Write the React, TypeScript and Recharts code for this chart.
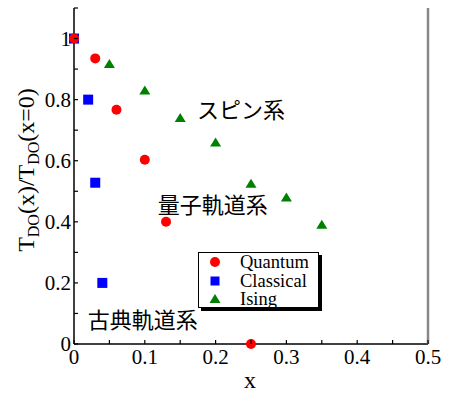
import React from 'react';
import { ScatterChart, Scatter, XAxis, YAxis, ReferenceDot, Label, Legend } from 'recharts';

const quantumX = [0, 0.03, 0.06, 0.1, 0.13, 0.25];
const quantumY = [1.0, 0.935, 0.767, 0.603, 0.4, 0];
const classicalX = [0, 0.02, 0.03, 0.04];
const classicalY = [1.0, 0.8, 0.528, 0.2];
const isingX = [0.05, 0.1, 0.15, 0.2, 0.25, 0.3, 0.35];
const isingY = [0.917, 0.83, 0.74, 0.66, 0.525, 0.48, 0.39];

const seriesNames = ['Quantum', 'Classical', 'Ising'];
const seriesColors = ['#ff0000', '#0000ff', '#008000'];

const xTicks = [0, 0.05, 0.1, 0.15, 0.2, 0.25, 0.3, 0.35, 0.4, 0.45, 0.5];
const yTicks = [0, 0.1, 0.2, 0.3, 0.4, 0.5, 0.6, 0.7, 0.8, 0.9, 1.0, 1.1];

const annotations = [
  { text: 'スピン系', x: 0.236, y: 0.773 },
  { text: '量子軌道系', x: 0.196, y: 0.462 },
  { text: '古典軌道系', x: 0.097, y: 0.085 },
];

const toPoints = (xs: number[], ys: number[]) => xs.map((x, i) => ({ x, y: ys[i] }));
const quantum = toPoints(quantumX, quantumY);
const classical = toPoints(classicalX, classicalY);
const ising = toPoints(isingX, isingY);

const SERIF = '"Liberation Serif", "Times New Roman", serif';
const CJK = '"Noto Sans CJK JP", sans-serif';

const isMultiple = (v: number, step: number) => Math.abs(Math.round(v / step) * step - v) < 1e-6;
const fmt = (v: number) => (Math.abs(v) < 1e-9 ? '0' : Math.abs(v - 1) < 1e-9 ? '1' : v.toFixed(1));

const BottomTick = (props: any) => {
  const { x, y, payload } = props;
  const v = payload.value;
  return (
    <g>
      <line x1={x} y1={y} x2={x} y2={y - 4} stroke="#000" strokeWidth={1.2} />
      {isMultiple(v, 0.1) && (
        <text x={x} y={y + 20} textAnchor="middle" fontFamily={SERIF} fontSize={21} fill="#000">
          {fmt(v)}
        </text>
      )}
    </g>
  );
};

const TopTick = (props: any) => {
  const { x, y } = props;
  return <line x1={x} y1={y} x2={x} y2={y + 5} stroke="#000" strokeWidth={1.2} />;
};

const LeftTick = (props: any) => {
  const { x, y, payload } = props;
  const v = payload.value;
  const labelled = isMultiple(v, 0.2) && v < 1.05;
  return (
    <g>
      <line x1={x} y1={y} x2={x + 4} y2={y} stroke="#000" strokeWidth={1.2} />
      {labelled && (
        <text x={x - 3} y={y + 7} textAnchor="end" fontFamily={SERIF} fontSize={21} fill="#000">
          {fmt(v)}
        </text>
      )}
    </g>
  );
};

const RightTick = (props: any) => {
  const { x, y, payload } = props;
  if (payload.value > 1.05 || payload.value < 0.05) return <g />;
  return <line x1={x} y1={y} x2={x - 8} y2={y} stroke="#444" strokeWidth={1.2} />;
};

const Circle = (props: any) => <circle cx={props.cx} cy={props.cy} r={5} fill={seriesColors[0]} />;
const Square = (props: any) => (
  <rect x={props.cx - 5} y={props.cy - 5} width={10} height={10} fill={seriesColors[1]} />
);
const Triangle = (props: any) => (
  <polygon
    points={`${props.cx},${props.cy - 5} ${props.cx - 5.5},${props.cy + 4} ${props.cx + 5.5},${props.cy + 4}`}
    fill={seriesColors[2]}
  />
);

const markerFor = (i: number) => {
  if (i === 0) return <circle cx={6} cy={6} r={5} fill={seriesColors[0]} />;
  if (i === 1) return <rect x={1.5} y={1.5} width={9} height={9} fill={seriesColors[1]} />;
  return <polygon points="6,1 0.5,10 11.5,10" fill={seriesColors[2]} />;
};

const rowCenters = [9, 27.5, 46];

const LegendBox = () => (
  <div
    style={{
      position: 'relative',
      width: 121,
      height: 56,
      boxSizing: 'border-box',
      border: '1.5px solid #000',
      boxShadow: '3px 3px 0 #000',
      background: '#fff',
    }}
  >
    {seriesNames.map((name, i) => (
      <div
        key={name}
        style={{ position: 'absolute', left: 0, top: rowCenters[i] - 9, height: 18, width: 118 }}
      >
        <svg width={12} height={12} style={{ position: 'absolute', left: 10, top: 3 }}>
          {markerFor(i)}
        </svg>
        <span
          style={{
            position: 'absolute',
            left: 41,
            top: 0,
            height: 18,
            lineHeight: '18px',
            fontFamily: SERIF,
            fontSize: 18.5,
            color: '#000',
            whiteSpace: 'nowrap',
          }}
        >
          {name}
        </span>
      </div>
    ))}
  </div>
);

const YTitle = () => (
  <text
    x={34}
    y={170}
    transform="rotate(-90, 34, 170)"
    textAnchor="middle"
    fontFamily={SERIF}
    fontSize={24}
    fill="#000"
  >
    <tspan>T</tspan>
    <tspan fontSize={16} dy={5}>DO</tspan>
    <tspan dy={-5}>(x)/T</tspan>
    <tspan fontSize={16} dy={5}>DO</tspan>
    <tspan dy={-5}>(x=0)</tspan>
  </text>
);

const XTitle = () => (
  <text x={250} y={388} textAnchor="middle" fontFamily={SERIF} fontSize={24} fill="#000">
    x
  </text>
);

export default function App() {
  return (
    <div style={{ position: 'absolute', left: 0, top: 0, width: 449, height: 394, background: '#fff' }}>
      <ScatterChart width={449} height={394} margin={{ top: 8, right: 0, bottom: 0, left: 0 }}>
        <XAxis
          dataKey="x"
          type="number"
          domain={[0, 0.5]}
          ticks={xTicks}
          interval={0}
          height={50}
          tickSize={0}
          tickMargin={0}
          tickLine={false}
          axisLine={{ stroke: '#000', strokeWidth: 1.5 }}
          tick={<BottomTick />}
        >
          <Label content={() => <XTitle />} />
        </XAxis>
        <XAxis
          xAxisId="top"
          orientation="top"
          type="number"
          domain={[0, 0.5]}
          ticks={xTicks}
          interval={0}
          height={0}
          tickSize={0}
          tickMargin={0}
          tickLine={false}
          axisLine={{ stroke: '#000', strokeWidth: 1.5 }}
          tick={<TopTick />}
        />
        <YAxis
          dataKey="y"
          type="number"
          domain={[0, 1.1]}
          ticks={yTicks}
          interval={0}
          width={74}
          tickSize={0}
          tickMargin={0}
          tickLine={false}
          axisLine={{ stroke: '#000', strokeWidth: 1.5 }}
          tick={<LeftTick />}
        >
          <Label content={() => <YTitle />} />
        </YAxis>
        <YAxis
          yAxisId="right"
          orientation="right"
          type="number"
          domain={[0, 1.1]}
          ticks={yTicks}
          interval={0}
          width={21}
          tickSize={0}
          tickMargin={0}
          tickLine={false}
          axisLine={{ stroke: '#888', strokeWidth: 2.5 }}
          tick={<RightTick />}
        />
        <Scatter name={seriesNames[1]} data={classical} shape={<Square />} isAnimationActive={false} />
        <Scatter name={seriesNames[2]} data={ising} shape={<Triangle />} isAnimationActive={false} />
        <Scatter name={seriesNames[0]} data={quantum} shape={<Circle />} isAnimationActive={false} />
        {annotations.map((a) => (
          <ReferenceDot
            key={a.text}
            x={a.x}
            y={a.y}
            r={0}
            fill="none"
            stroke="none"
            isFront
            label={{
              content: (p: any) => {
                const vb = p.viewBox || {};
                const cx = (vb.x ?? 0) + (vb.width ?? 0) / 2;
                const cy = (vb.y ?? 0) + (vb.height ?? 0) / 2;
                return (
                  <text
                    x={cx}
                    y={cy}
                    textAnchor="middle"
                    dominantBaseline="central"
                    fontFamily={CJK}
                    fontSize={22}
                    fill="#000"
                  >
                    {a.text}
                  </text>
                );
              },
            }}
          />
        ))}
        <Legend
          layout="vertical"
          align="center"
          verticalAlign="middle"
          wrapperStyle={{ left: 198, top: 252, width: 121, height: 56 }}
          content={() => <LegendBox />}
        />
      </ScatterChart>
    </div>
  );
}
